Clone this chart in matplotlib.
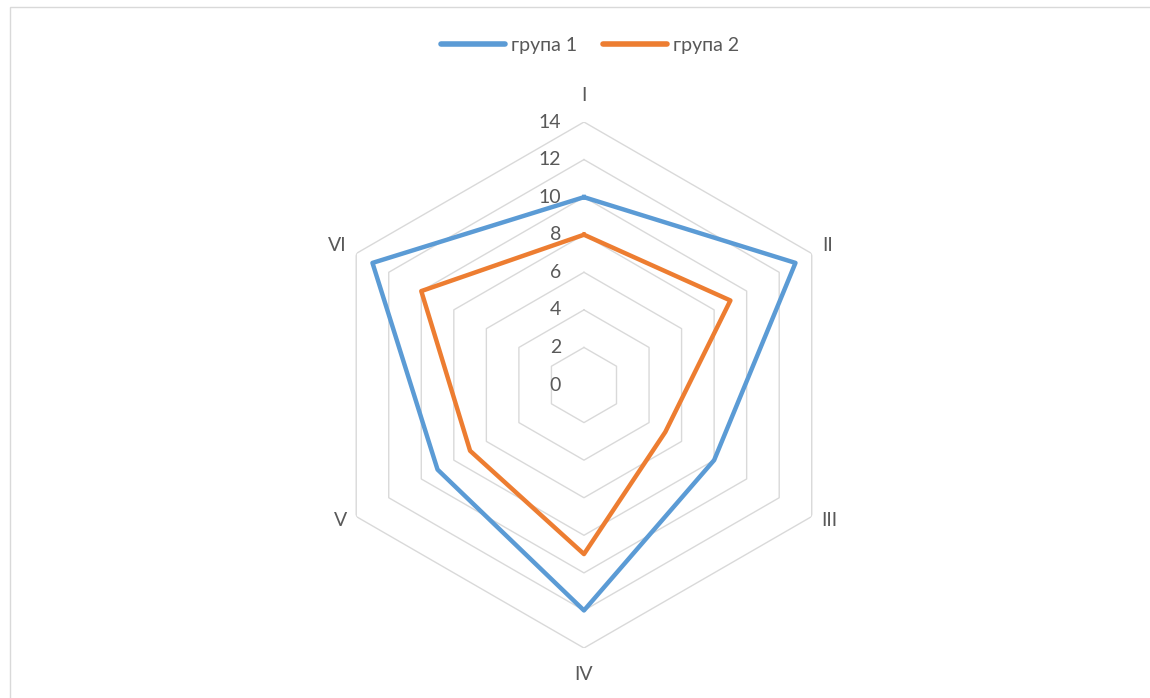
import numpy as np
import matplotlib.pyplot as plt
from matplotlib.patches import Rectangle

# data
categories = ["I", "II", "III", "IV", "V", "VI"]
group1 = [10, 13, 8, 12, 9, 13]
group2 = [8, 9, 5, 9, 7, 10]
series_names = ["група 1", "група 2"]
ticks = [0, 2, 4, 6, 8, 10, 12, 14]

colors = ["#5B9BD5", "#ED7D31"]
grid_color = "#D9D9D9"
text_color = "#595959"

plt.rcParams['font.family'] = ['Lato', 'DejaVu Sans']

fig = plt.figure(figsize=(11.5, 6.98), dpi=100)

# light frame like the excel chart area
fig.patches.append(Rectangle((10 / 1150, -0.1), 1.2, (698 - 7) / 698 + 0.1,
                             transform=fig.transFigure, fill=False,
                             edgecolor=grid_color, linewidth=1))

ax = fig.add_axes([0.2791, 0.0716, 0.4574, 0.7536], projection='polar')
ax.set_theta_offset(np.pi / 2)
ax.set_theta_direction(-1)
ax.set_ylim(0, 14)
ax.grid(False)
ax.spines['polar'].set_visible(False)
ax.set_xticks([])
ax.set_yticks([])
ax.patch.set_alpha(0)

n = len(categories)
angles = np.linspace(0, 2 * np.pi, n, endpoint=False)
closed = np.append(angles, angles[0])

# hexagonal grid
for t in ticks[1:]:
    ax.plot(closed, [t] * (n + 1), color=grid_color, lw=1.0, zorder=1)

# value labels along the first axis
for t in ticks:
    ax.annotate(str(t), xy=(0, t), xytext=(-23, 0), textcoords='offset pixels',
                ha='right', va='center', fontsize=14, color=text_color)

# category labels
offsets = [(0, 27), (16, 8), (18, -4), (0, -26), (-16, -4), (-19, 8)]
for ang, lab, off in zip(angles, categories, offsets):
    ax.annotate(lab, xy=(ang, 14), xytext=off, textcoords='offset pixels',
                ha='center', va='center', fontsize=14, color=text_color)

for vals, name, c in zip([group1, group2], series_names, colors):
    ax.plot(closed, vals + vals[:1], color=c, lw=3.2, label=name,
            solid_joinstyle='round', zorder=3)

leg = fig.legend(loc='center', bbox_to_anchor=(0.513, 0.935), ncol=2,
                 frameon=False, fontsize=14, handlelength=3.3,
                 handletextpad=0.3, columnspacing=1.3)
for txt in leg.get_texts():
    txt.set_color(text_color)
for h in leg.legend_handles:
    h.set_linewidth(4)
    h.set_solid_capstyle('round')

fig.savefig("out.png", dpi=100)
